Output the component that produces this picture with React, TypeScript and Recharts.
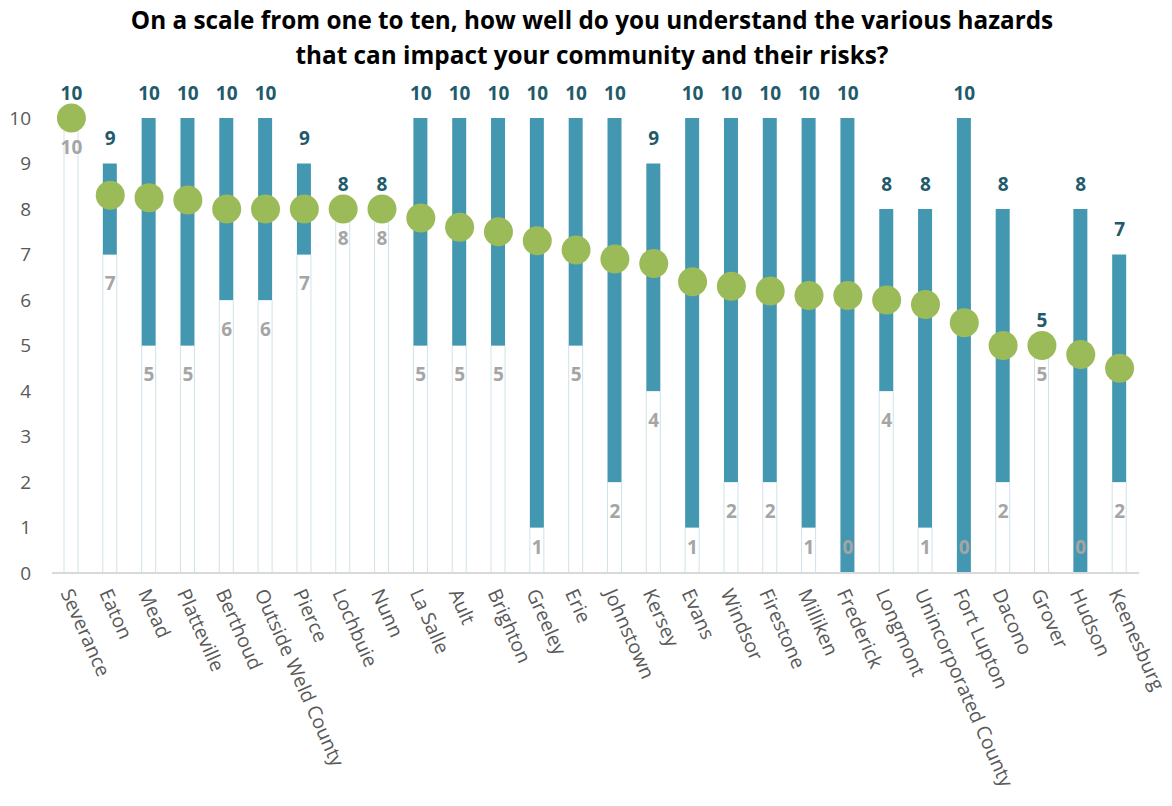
import { Bar, ComposedChart, LabelList, Line, XAxis, YAxis } from "recharts";

const communities = [
  "Severance", "Eaton", "Mead", "Platteville", "Berthoud", "Outside Weld County",
  "Pierce", "Lochbuie", "Nunn", "La Salle", "Ault", "Brighton", "Greeley", "Erie",
  "Johnstown", "Kersey", "Evans", "Windsor", "Firestone", "Milliken", "Frederick",
  "Longmont", "Unincorporated County", "Fort Lupton", "Dacono", "Grover", "Hudson",
  "Keenesburg",
];

const lowest = [10, 7, 5, 5, 6, 6, 7, 8, 8, 5, 5, 5, 1, 5, 2, 4, 1, 2, 2, 1, 0, 4, 1, 0, 2, 5, 0, 2];
const highest = [10, 9, 10, 10, 10, 10, 9, 8, 8, 10, 10, 10, 10, 10, 10, 9, 10, 10, 10, 10, 10, 8, 8, 10, 8, 5, 8, 7];
const average = [10, 8.3, 8.25, 8.2, 8.0, 8.0, 8.0, 8.0, 8.0, 7.8, 7.6, 7.5, 7.3, 7.1, 6.9, 6.8, 6.4, 6.3, 6.2, 6.1, 6.1, 6.0, 5.9, 5.5, 5.0, 5.0, 4.8, 4.5];

const yTicks = [0, 1, 2, 3, 4, 5, 6, 7, 8, 9, 10];

const rows = communities.map((name, i) => ({
  name,
  min: lowest[i],
  max: highest[i],
  spread: highest[i] - lowest[i],
  avg: average[i],
}));

const FONT = "'Open Sans', sans-serif";
const TEAL = "#4397b0";
const DARK = "#215a6b";
const GREY = "#a5a5a5";
const GREEN = "#9bbb59";
const PLOT_BOTTOM = 573;

// category names run down and to the right, just left of the tick
const XTick = ({ x, y, payload }: any) => (
  <g transform={`translate(${x - 5},${y})`}>
    <text
      transform="rotate(66)"
      x={0}
      y={0}
      dy="0.35em"
      textAnchor="start"
      fill="#595959"
      fontSize={19.5}
      fontFamily={FONT}
    >
      {payload.value}
    </text>
  </g>
);

const MaxLabel = ({ x, y, index }: any) => (
  <text x={x} y={y - 25} dy="0.35em" textAnchor="middle" fill={DARK} fontSize={19} fontWeight="bold" fontFamily={FONT}>
    {highest[index]}
  </text>
);

const MinLabel = ({ x, y, index }: any) => (
  <text
    x={x}
    y={Math.min(y + 29, PLOT_BOTTOM - 26)}
    dy="0.35em"
    textAnchor="middle"
    fill={GREY}
    fontSize={19}
    fontWeight="bold"
    fontFamily={FONT}
  >
    {lowest[index]}
  </text>
);

const AvgDot = ({ cx, cy, index }: any) => (
  <circle key={`avg-${index}`} cx={cx} cy={cy} r={14.5} fill={GREEN} />
);

export default function App() {
  return (
    <div style={{ position: "absolute", left: 0, top: 0, width: 1172, height: 806, background: "#fff" }}>
      <div
        style={{
          position: "absolute",
          left: 12,
          top: 2,
          width: 1160,
          textAlign: "center",
          fontFamily: FONT,
          fontWeight: "bold",
          fontSize: 24.3,
          lineHeight: "35px",
          color: "#000",
        }}
      >
        On a scale from one to ten, how well do you understand the various hazards
        <br />
        that can impact your community and their risks?
      </div>
      <ComposedChart
        width={1172}
        height={806}
        data={rows}
        margin={{ top: 118, right: 33, bottom: 0, left: 0 }}
        barCategoryGap={0}
        style={{ position: "absolute", left: 0, top: 0 }}
      >
        <XAxis
          dataKey="name"
          interval={0}
          height={233}
          tickLine={false}
          tickSize={0}
          tickMargin={17}
          axisLine={{ stroke: "#d9d9d9", strokeWidth: 2 }}
          tick={<XTick />}
        />
        <YAxis
          domain={[0, 10]}
          ticks={yTicks}
          width={52}
          axisLine={false}
          tickLine={false}
          tickSize={0}
          tickMargin={21}
          tick={{ fill: "#595959", fontSize: 19, fontFamily: FONT }}
        />
        <Bar dataKey="min" stackId="r" barSize={14} fill="#ffffff" stroke="#cfe3ea" strokeWidth={1} isAnimationActive={false} />
        <Bar dataKey="spread" stackId="r" barSize={14} fill={TEAL} isAnimationActive={false} />
        <Line dataKey="avg" stroke="none" dot={<AvgDot />} activeDot={false} isAnimationActive={false} />
        <Line dataKey="max" stroke="none" dot={false} activeDot={false} isAnimationActive={false}>
          <LabelList dataKey="max" content={<MaxLabel />} />
        </Line>
        <Line dataKey="min" stroke="none" dot={false} activeDot={false} isAnimationActive={false}>
          <LabelList dataKey="min" content={<MinLabel />} />
        </Line>
      </ComposedChart>
    </div>
  );
}
